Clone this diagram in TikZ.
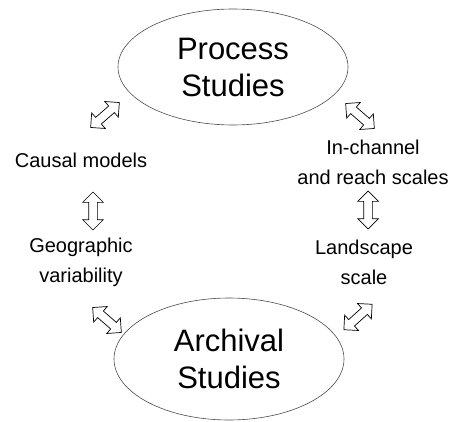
\documentclass[tikz,border=0pt]{standalone}
\usepackage{fontspec}
\setmainfont{Liberation Sans}
\usetikzlibrary{shapes.geometric,shapes.arrows}

\begin{document}
\begin{tikzpicture}[x=1pt,y=-1pt,
    study/.style={ellipse,draw=black!70,line width=0.6pt,minimum width=230pt,minimum height=116pt,
      align=center,font=\fontsize{31}{37}\selectfont},
    note/.style={align=center,font=\fontsize{20}{30}\selectfont},
    link/.style={double arrow,draw,line width=0.7pt,minimum height=38pt,minimum width=20pt,
      inner sep=4pt,double arrow head extend=6pt}]
    \useasboundingbox (0,0) rectangle (460,422);
    \node[study] (P) at (233,67) {Process\\Studies};
    \node[study,minimum height=122pt] (A) at (229,359) {Archival\\Studies};
    \node[note] (C) at (81,160) {Causal models};
    \node[note] (G) at (81,262) {Geographic\\variability};
    \node[note] (I) at (373,162) {In-channel\\and reach scales};
    \node[note] (L) at (364,262) {Landscape\\scale};
    \node[link,rotate=41] (PC) at (105,115) {};
    \node[link,rotate=90] (CG) at (93,211) {};
    \node[link,rotate=-41] (GA) at (107,320) {};
    \node[link,rotate=-41] (PI) at (360,116) {};
    \node[link,rotate=90] (IL) at (368,210) {};
    \node[link,rotate=42] (LA) at (358,317) {};
  \end{tikzpicture}
\end{document}
